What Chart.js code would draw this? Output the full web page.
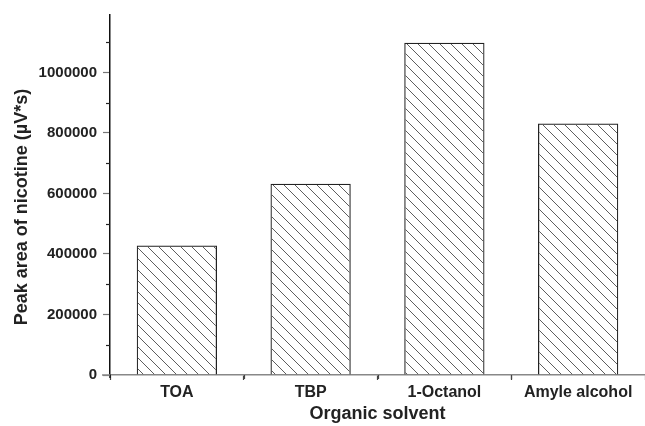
<!DOCTYPE html>
<html>
<head>
<meta charset="utf-8">
<script src="https://cdn.jsdelivr.net/npm/chart.js@4"></script>
<style>
  html, body { margin: 0; padding: 0; background: #fff; }
  #wrap { width: 645px; height: 426px; }
</style>
</head>
<body>
<div id="wrap"><canvas id="chart"></canvas></div>
<script>
const solvents = ['TOA', 'TBP', '1-Octanol', 'Amyle alcohol'];
const peakAreas = [428000, 632000, 1098000, 831000];
const yMajorTicks = [0, 200000, 400000, 600000, 800000, 1000000];
const yMinorTicks = [100000, 300000, 500000, 700000, 900000, 1100000];
const yMax = 1190000;

const FONT = '"Liberation Sans", Arial, Helvetica, sans-serif';

// diagonal hatch (\\\) fill
function makeHatch() {
    const s = 11;
    const c = document.createElement('canvas');
    c.width = s; c.height = s;
    const g = c.getContext('2d');
    g.strokeStyle = '#5e5e5e';
    g.lineWidth = 1;
    g.beginPath();
    g.moveTo(-1, -1); g.lineTo(s + 1, s + 1);
    g.moveTo(-1, s - 1); g.lineTo(1, s + 1);
    g.moveTo(s - 1, -1); g.lineTo(s + 1, 1);
    g.stroke();
    return g.createPattern(c, 'repeat');
}

const extraAxisBits = {
    id: 'extraAxisBits',
    afterDraw(chart) {
        const ctx = chart.ctx;
        const x = chart.scales.x, y = chart.scales.y;
        const area = chart.chartArea;
        ctx.save();
        // minor y ticks
        ctx.strokeStyle = '#222';
        ctx.lineWidth = 1.2;
        yMinorTicks.forEach(v => {
            const py = Math.round(y.getPixelForValue(v)) + 0.5;
            ctx.beginPath();
            ctx.moveTo(area.left - 4, py);
            ctx.lineTo(area.left, py);
            ctx.stroke();
        });
        // minor x ticks between categories
        ctx.strokeStyle = '#444';
        for (let i = 0; i < solvents.length - 1; i++) {
            const px = Math.round((x.getPixelForTick(i) + x.getPixelForTick(i + 1)) / 2) + 0.5;
            ctx.beginPath();
            ctx.moveTo(px, area.bottom);
            ctx.lineTo(px, area.bottom + 4);
            ctx.stroke();
        }
        // y axis runs slightly below, x axis slightly left
        ctx.strokeStyle = '#111';
        ctx.lineWidth = 1.5;
        ctx.beginPath();
        ctx.moveTo(area.left, area.bottom);
        ctx.lineTo(area.left, area.bottom + 3);
        ctx.stroke();
        ctx.strokeStyle = '#888';
        ctx.beginPath();
        ctx.moveTo(area.left - 8, area.bottom);
        ctx.lineTo(area.left, area.bottom);
        ctx.stroke();
        // y axis title
        ctx.translate(22, (area.top + area.bottom) / 2 + 12);
        ctx.rotate(-Math.PI / 2);
        ctx.fillStyle = '#222';
        ctx.font = 'bold 18px ' + FONT;
        ctx.textAlign = 'center';
        ctx.textBaseline = 'middle';
        ctx.fillText('Peak area of nicotine (\u00b5V*s)', 0, 0);
        ctx.restore();
    }
};

const ctx = document.getElementById('chart').getContext('2d');
new Chart(ctx, {
    type: 'bar',
    data: {
        labels: solvents,
        datasets: [{
            data: peakAreas,
            backgroundColor: makeHatch(),
            borderColor: '#222',
            borderWidth: 1.2,
            barPercentage: 0.6,
            categoryPercentage: 1.0
        }]
    },
    options: {
        responsive: true,
        maintainAspectRatio: false,
        animation: false,
        layout: { padding: { top: 13, left: 0, right: 0, bottom: 0 } },
        plugins: {
            legend: { display: false },
            tooltip: { enabled: false }
        },
        scales: {
            x: {
                afterFit: s => { s.height = 51; },
                border: { color: '#888', width: 1.5 },
                grid: { drawOnChartArea: false, drawTicks: true, tickLength: 5, tickColor: '#444', tickWidth: 1.2 },
                ticks: { color: '#222', font: { family: FONT, size: 16, weight: 'bold' }, padding: 3, maxRotation: 0 },
                title: {
                    display: true,
                    text: 'Organic solvent',
                    color: '#222',
                    font: { family: FONT, size: 18, weight: 'bold' },
                    padding: { top: 0, bottom: 1 }
                }
            },
            y: {
                min: 0,
                max: yMax,
                afterFit: s => { s.width = 110; },
                afterBuildTicks: s => { s.ticks = yMajorTicks.map(v => ({ value: v })); },
                border: { color: '#111', width: 1.5 },
                grid: { drawOnChartArea: false, drawTicks: true, tickLength: 7, tickColor: '#777', tickWidth: 1.2 },
                ticks: {
                    color: '#222',
                    font: { family: FONT, size: 15, weight: 'bold' },
                    padding: 6,
                    callback: v => String(v)
                }
            }
        }
    },
    plugins: [extraAxisBits]
});
</script>
</body>
</html>
